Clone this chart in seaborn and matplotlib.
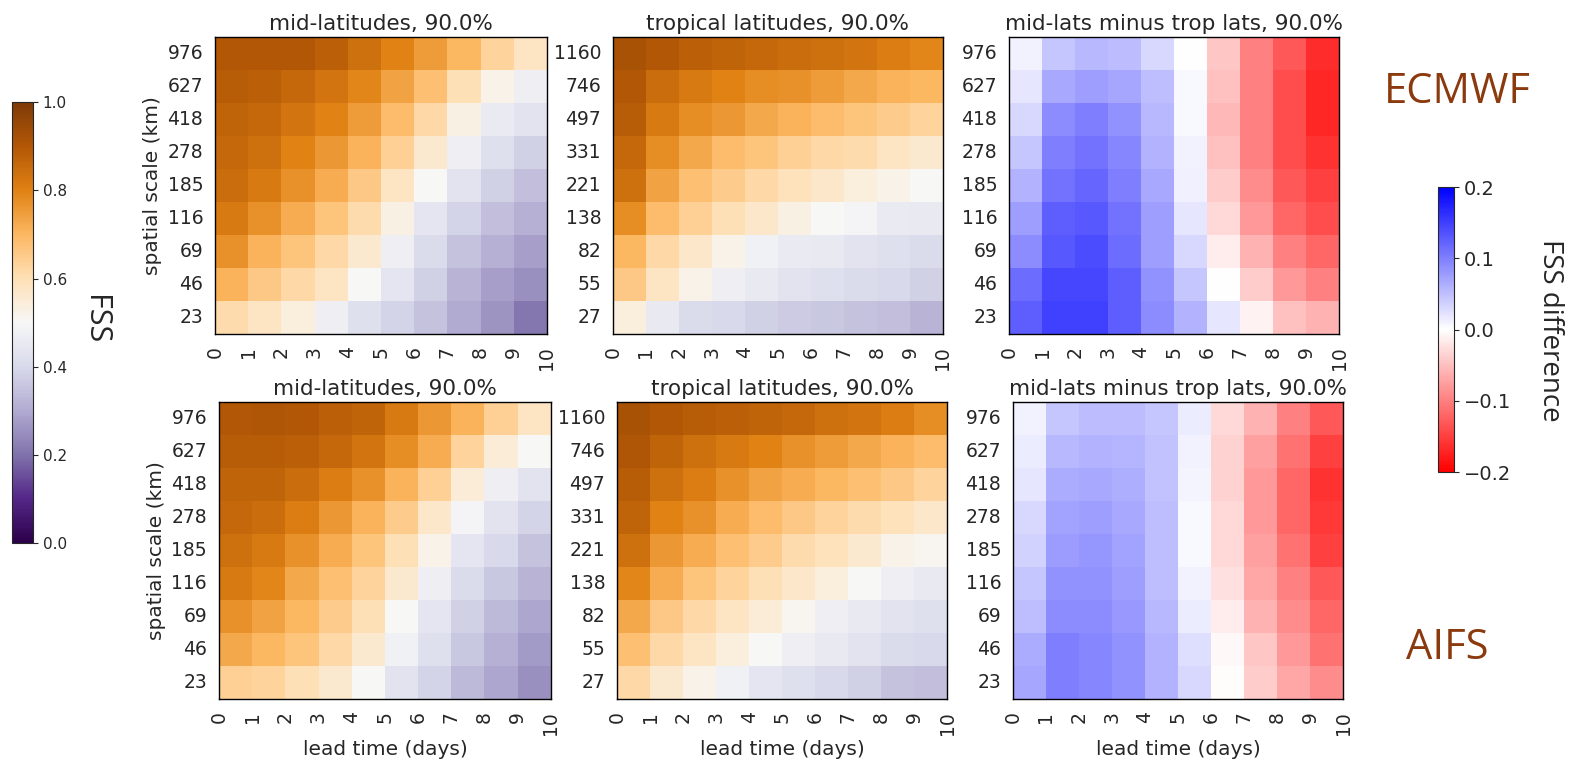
# -*- coding: utf-8 -*-
import numpy as np
import pandas as pd
import matplotlib
matplotlib.use("Agg")
import matplotlib.pyplot as plt
import seaborn as sns

# data (rows top -> bottom, cols = lead day 0..9)
lead_days = [str(d) for d in range(11)]
mid_scales = ["976", "627", "418", "278", "185", "116", "69", "46", "23"]
trop_scales = ["1160", "746", "497", "331", "221", "138", "82", "55", "27"]

ecmwf_mid = [
    [0.90, 0.90, 0.90, 0.88, 0.84, 0.80, 0.75, 0.70, 0.63, 0.58],
    [0.89, 0.88, 0.86, 0.83, 0.79, 0.74, 0.68, 0.60, 0.52, 0.47],
    [0.87, 0.86, 0.83, 0.80, 0.75, 0.69, 0.62, 0.53, 0.46, 0.43],
    [0.86, 0.84, 0.80, 0.76, 0.71, 0.64, 0.56, 0.47, 0.42, 0.38],
    [0.85, 0.82, 0.77, 0.72, 0.66, 0.58, 0.50, 0.43, 0.38, 0.34],
    [0.82, 0.77, 0.72, 0.67, 0.61, 0.53, 0.44, 0.39, 0.34, 0.31],
    [0.77, 0.71, 0.67, 0.62, 0.56, 0.47, 0.41, 0.35, 0.31, 0.28],
    [0.71, 0.66, 0.62, 0.58, 0.50, 0.44, 0.38, 0.32, 0.28, 0.25],
    [0.61, 0.58, 0.54, 0.47, 0.42, 0.39, 0.35, 0.30, 0.26, 0.21],
]
ecmwf_trop = [
    [0.92, 0.90, 0.88, 0.87, 0.86, 0.85, 0.84, 0.83, 0.81, 0.79],
    [0.90, 0.85, 0.82, 0.80, 0.78, 0.77, 0.75, 0.73, 0.71, 0.70],
    [0.89, 0.82, 0.78, 0.76, 0.73, 0.71, 0.69, 0.67, 0.65, 0.63],
    [0.86, 0.78, 0.73, 0.69, 0.67, 0.64, 0.62, 0.61, 0.58, 0.56],
    [0.84, 0.74, 0.68, 0.65, 0.62, 0.59, 0.57, 0.54, 0.52, 0.50],
    [0.78, 0.69, 0.64, 0.60, 0.57, 0.53, 0.50, 0.49, 0.46, 0.45],
    [0.70, 0.62, 0.57, 0.52, 0.48, 0.46, 0.45, 0.43, 0.42, 0.41],
    [0.66, 0.58, 0.52, 0.47, 0.45, 0.43, 0.42, 0.41, 0.40, 0.38],
    [0.54, 0.45, 0.41, 0.40, 0.38, 0.37, 0.36, 0.35, 0.34, 0.32],
]
ecmwf_diff = [
    [0.010, 0.045, 0.055, 0.053, 0.030, 0.000, -0.045, -0.100, -0.130, -0.165],
    [0.020, 0.068, 0.075, 0.070, 0.050, 0.005, -0.050, -0.100, -0.140, -0.170],
    [0.030, 0.090, 0.100, 0.085, 0.055, 0.005, -0.055, -0.100, -0.140, -0.170],
    [0.045, 0.100, 0.110, 0.095, 0.060, 0.010, -0.050, -0.100, -0.140, -0.160],
    [0.060, 0.110, 0.120, 0.100, 0.068, 0.012, -0.040, -0.090, -0.130, -0.150],
    [0.075, 0.125, 0.130, 0.110, 0.075, 0.020, -0.030, -0.080, -0.120, -0.140],
    [0.090, 0.130, 0.140, 0.115, 0.075, 0.030, -0.015, -0.060, -0.100, -0.120],
    [0.115, 0.145, 0.145, 0.125, 0.085, 0.045, 0.000, -0.040, -0.080, -0.100],
    [0.125, 0.150, 0.150, 0.125, 0.090, 0.060, 0.020, -0.010, -0.050, -0.060],
]

aifs_mid = [
    [0.90, 0.91, 0.90, 0.88, 0.87, 0.82, 0.76, 0.71, 0.64, 0.58],
    [0.89, 0.89, 0.88, 0.86, 0.83, 0.78, 0.72, 0.63, 0.55, 0.50],
    [0.87, 0.87, 0.85, 0.81, 0.77, 0.71, 0.64, 0.55, 0.47, 0.43],
    [0.86, 0.85, 0.81, 0.76, 0.71, 0.65, 0.57, 0.49, 0.43, 0.39],
    [0.84, 0.82, 0.77, 0.72, 0.67, 0.60, 0.52, 0.44, 0.40, 0.35],
    [0.82, 0.79, 0.73, 0.68, 0.63, 0.56, 0.47, 0.41, 0.36, 0.32],
    [0.77, 0.74, 0.70, 0.65, 0.60, 0.50, 0.44, 0.38, 0.33, 0.29],
    [0.73, 0.70, 0.67, 0.62, 0.56, 0.48, 0.42, 0.36, 0.31, 0.27],
    [0.64, 0.63, 0.60, 0.56, 0.50, 0.43, 0.39, 0.33, 0.29, 0.25],
]
aifs_trop = [
    [0.92, 0.90, 0.89, 0.88, 0.87, 0.86, 0.84, 0.83, 0.81, 0.78],
    [0.91, 0.87, 0.84, 0.82, 0.80, 0.77, 0.75, 0.73, 0.71, 0.69],
    [0.89, 0.84, 0.81, 0.77, 0.74, 0.72, 0.70, 0.68, 0.66, 0.63],
    [0.87, 0.80, 0.77, 0.72, 0.69, 0.66, 0.63, 0.61, 0.59, 0.57],
    [0.84, 0.76, 0.72, 0.68, 0.65, 0.61, 0.59, 0.56, 0.52, 0.51],
    [0.79, 0.72, 0.67, 0.63, 0.60, 0.57, 0.54, 0.50, 0.47, 0.45],
    [0.73, 0.66, 0.62, 0.58, 0.55, 0.51, 0.47, 0.45, 0.43, 0.42],
    [0.68, 0.62, 0.58, 0.54, 0.50, 0.47, 0.45, 0.43, 0.41, 0.40],
    [0.62, 0.56, 0.52, 0.48, 0.44, 0.42, 0.40, 0.38, 0.35, 0.34],
]
aifs_diff = [
    [0.010, 0.045, 0.053, 0.053, 0.045, 0.015, -0.030, -0.060, -0.100, -0.130],
    [0.015, 0.055, 0.060, 0.058, 0.047, 0.010, -0.035, -0.075, -0.110, -0.150],
    [0.020, 0.065, 0.068, 0.063, 0.048, 0.008, -0.035, -0.080, -0.120, -0.160],
    [0.030, 0.072, 0.075, 0.068, 0.050, 0.005, -0.030, -0.080, -0.120, -0.155],
    [0.035, 0.078, 0.082, 0.072, 0.050, 0.005, -0.030, -0.075, -0.110, -0.150],
    [0.045, 0.085, 0.085, 0.075, 0.050, 0.010, -0.025, -0.070, -0.100, -0.130],
    [0.050, 0.090, 0.090, 0.080, 0.055, 0.015, -0.015, -0.060, -0.090, -0.120],
    [0.065, 0.100, 0.095, 0.085, 0.060, 0.025, -0.005, -0.045, -0.080, -0.110],
    [0.070, 0.100, 0.095, 0.085, 0.060, 0.030, -0.002, -0.040, -0.070, -0.090],
]

tick_fontsize = 13.5
label_fontsize = 14.5
title_fontsize = 15.5
brand_color = "#8B3A0E"

sns.set_style("white")
plt.rcParams["font.family"] = ["DejaVu Sans"]

fig = plt.figure(figsize = (15.83, 7.6), dpi = 100)

top_y, bot_y, h = 0.5605, 0.0803, 0.3908
panels = [
    # data, scales, title, cmap, vmin, vmax, rect, bottom row
    (ecmwf_mid, mid_scales, "mid-latitudes, 90.0%", "PuOr_r", 0, 1, [0.1358, top_y, 0.2097, h], False),
    (ecmwf_trop, trop_scales, "tropical latitudes, 90.0%", "PuOr_r", 0, 1, [0.3872, top_y, 0.2085, h], False),
    (ecmwf_diff, mid_scales, "mid-lats minus trop lats, 90.0%", "bwr_r", -0.2, 0.2, [0.6374, top_y, 0.2085, h], False),
    (aifs_mid, mid_scales, "mid-latitudes, 90.0%", "PuOr_r", 0, 1, [0.1383, bot_y, 0.2097, h], True),
    (aifs_trop, trop_scales, "tropical latitudes, 90.0%", "PuOr_r", 0, 1, [0.3898, bot_y, 0.2085, h], True),
    (aifs_diff, mid_scales, "mid-lats minus trop lats, 90.0%", "bwr_r", -0.2, 0.2, [0.6399, bot_y, 0.2085, h], True),
]

for idx, (vals, scales, title, cmap, vmin, vmax, rect, bottom) in enumerate(panels):
    ax = fig.add_axes(rect)
    df = pd.DataFrame(vals, index = scales, columns = lead_days[:-1])
    sns.heatmap(df, ax = ax, cmap = cmap, vmin = vmin, vmax = vmax, cbar = False)
    ax.set_xticks(range(11))
    ax.set_xticklabels(lead_days, rotation = 90)
    ax.set_yticks(np.arange(len(scales)) + 0.5)
    ax.set_yticklabels(scales, rotation = 0)
    for s in ax.spines.values():
        s.set_visible(True)
        s.set_linewidth(1.0)
        s.set_color("black")
    ax.tick_params(axis = "both", length = 5, width = 1, labelsize = tick_fontsize, color = "black")
    ax.set_title(title, fontsize = title_fontsize, pad = 5)
    if idx % 3 == 0:
        ax.set_ylabel("spatial scale (km)", fontsize = label_fontsize)
    else:
        ax.set_ylabel("")
    if bottom:
        ax.set_xlabel("lead time (days)", fontsize = label_fontsize)
    else:
        ax.set_xlabel("")

# colorbars
cax1 = fig.add_axes([0.0076, 0.2855, 0.0133, 0.580])
sm1 = plt.cm.ScalarMappable(cmap = "PuOr_r", norm = plt.Normalize(0, 1))
cb1 = fig.colorbar(sm1, cax = cax1)
cb1.set_ticks([0.0, 0.2, 0.4, 0.6, 0.8, 1.0])
cb1.ax.tick_params(labelsize = 11)

cax2 = fig.add_axes([0.9084, 0.3789, 0.0101, 0.375])
sm2 = plt.cm.ScalarMappable(cmap = "bwr_r", norm = plt.Normalize(-0.2, 0.2))
cb2 = fig.colorbar(sm2, cax = cax2)
cb2.set_ticks([-0.2, -0.1, 0.0, 0.1, 0.2])
cb2.ax.tick_params(labelsize = 14)

fig.text(0.060, 1 - 320 / 760, "FSS", rotation = 270, fontsize = 22,
         family = "Open Sans", ha = "center", va = "center")
fig.text(0.979, 1 - 330 / 760, "FSS difference", rotation = 270, fontsize = 20,
         family = "Open Sans", ha = "center", va = "center")
fig.text(1457 / 1583, 1 - 92 / 760, "ECMWF", fontsize = 30, color = brand_color,
         family = "Open Sans", ha = "center", va = "center")
fig.text(1447 / 1583, 1 - 648 / 760, "AIFS", fontsize = 30, color = brand_color,
         family = "Open Sans", ha = "center", va = "center")

fig.savefig("out.png", dpi = 100)
